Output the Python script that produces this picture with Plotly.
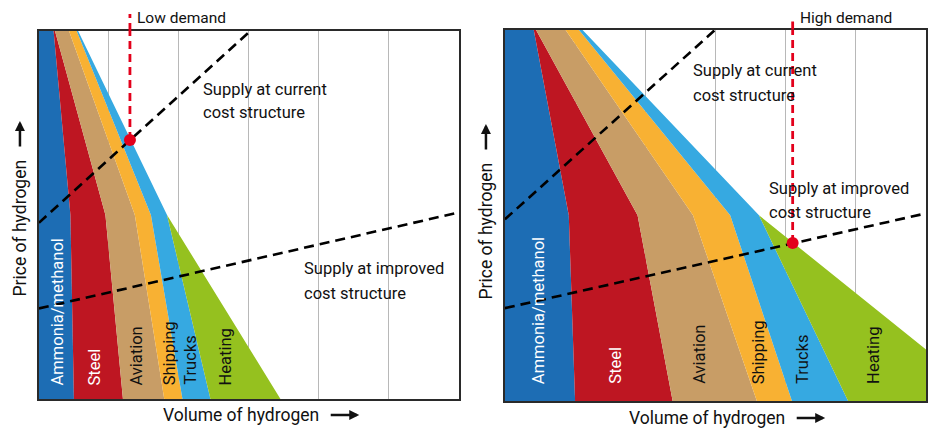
import plotly.graph_objects as go

# ---------------- data ----------------
sectors = ["Ammonia/methanol", "Steel", "Aviation", "Shipping", "Trucks", "Heating"]
price_levels = [10, 5, 0]

# cumulative hydrogen volume (right edge of each sector) at each price level
low_edges = [
    [0.21, 0.45, 0.50],
    [0.23, 0.95, 1.20],
    [0.43, 1.37, 1.79],
    [0.54, 1.60, 2.05],
    [0.56, 1.83, 2.45],
    [0.56, 1.83, 3.45],
]
high_edges = [
    [0.41, 0.91, 1.00],
    [0.44, 1.89, 2.39],
    [0.86, 2.68, 3.59],
    [1.05, 3.21, 4.09],
    [1.10, 3.62, 4.89],
    [1.10, 3.62, 6.91],
]

low_current_volume = [0, 3.02]
low_current_price = [4.79, 10]
low_improved_volume = [0, 6]
low_improved_price = [2.46, 5.07]
high_current_volume = [0, 3.0]
high_current_price = [4.89, 10]
high_improved_volume = [0, 6]
high_improved_price = [2.50, 5.05]

low_equilibrium = (1.30, 7.04)
high_equilibrium = (4.10, 4.25)

# ---------------- styles ----------------
sector_colors = ["#1d6db4", "#be1622", "#c89d66", "#f8b133", "#36a9e1", "#95c11f"]
label_colors = ["white", "white", "#111111", "#111111", "#111111", "#111111"]
low_label_x = [0.27, 0.80, 1.40, 1.86, 2.16, 2.67]
high_label_x = [0.48, 1.57, 2.77, 3.61, 4.24, 5.25]
FONT = "Roboto"
RED = "#e3001b"
W, H = 928, 430


def px(x):
    return x / W


def py(y):
    return 1 - y / H


fig = go.Figure()


def add_panel(edges, xa, ya):
    prev = [0] * len(price_levels)
    for i, edge in enumerate(edges):
        xs = list(prev) + list(reversed(edge))
        ys = list(price_levels) + list(reversed(price_levels))
        fig.add_trace(go.Scatter(
            x=xs, y=ys, fill="toself", mode="lines",
            fillcolor=sector_colors[i], line=dict(width=0, color=sector_colors[i]),
            hoverinfo="skip", xaxis=xa, yaxis=ya, name=sectors[i]))
        prev = edge


def add_supply(vx, vy, xa, ya):
    fig.add_trace(go.Scatter(
        x=vx, y=vy, mode="lines",
        line=dict(color="#000000", width=2.6, dash="10px,6px"),
        hoverinfo="skip", xaxis=xa, yaxis=ya))


add_panel(low_edges, "x", "y")
add_supply(low_current_volume, low_current_price, "x", "y")
add_supply(low_improved_volume, low_improved_price, "x", "y")
add_panel(high_edges, "x2", "y2")
add_supply(high_current_volume, high_current_price, "x2", "y2")
add_supply(high_improved_volume, high_improved_price, "x2", "y2")

# demand lines (shapes) and dots
for (ex, ey), xr, yr in [(low_equilibrium, "x", "y"), (high_equilibrium, "x2", "y2")]:
    fig.add_shape(type="line", xref=xr, yref=yr, x0=ex, x1=ex, y0=ey, y1=10,
                  line=dict(color=RED, width=2.8, dash="8px,5px"), layer="above")
for ex, xr, y0p, y1p in [(low_equilibrium[0], "x", 31, 14), (high_equilibrium[0], "x2", 29.5, 19)]:
    fig.add_shape(type="line", xref=xr, yref="paper", x0=ex, x1=ex, y0=py(y0p), y1=py(y1p),
                  line=dict(color=RED, width=2.8, dash="8px,5px"), layer="above")

fig.add_trace(go.Scatter(x=[low_equilibrium[0]], y=[low_equilibrium[1]], mode="markers",
                         marker=dict(color=RED, size=12), hoverinfo="skip", xaxis="x", yaxis="y",
                         cliponaxis=False))
fig.add_trace(go.Scatter(x=[high_equilibrium[0]], y=[high_equilibrium[1]], mode="markers",
                         marker=dict(color=RED, size=12), hoverinfo="skip", xaxis="x2", yaxis="y2",
                         cliponaxis=False))

ann = []


def text(x, y, t, size=16.5, color="#111111", xanchor="left", yanchor="middle", angle=0, xref="paper", yref="paper"):
    ann.append(dict(x=x, y=y, xref=xref, yref=yref, text=t, showarrow=False,
                    xanchor=xanchor, yanchor=yanchor, textangle=angle,
                    font=dict(family=FONT, size=size, color=color), borderpad=0))


def arrow(hx, hy, ax, ay):
    ann.append(dict(x=px(hx), y=py(hy), xref="paper", yref="paper", text="",
                    showarrow=True, ax=ax, ay=ay, arrowhead=2, arrowsize=0.8,
                    arrowwidth=2.5, arrowcolor="#111111", standoff=0))


# left panel texts
text(px(136), py(18), "Low demand", size=15.5)
text(px(202), py(89), "Supply at current")
text(px(202), py(113), "cost structure")
text(px(304), py(268), "Supply at improved")
text(px(304), py(293), "cost structure")
# right panel texts
text(px(801), py(18), "High demand", size=15.5)
text(px(693), py(70), "Supply at current")
text(px(693), py(95.5), "cost structure")
text(px(770), py(188), "Supply at improved")
text(px(770), py(212), "cost structure")

for i, s in enumerate(sectors):
    text(low_label_x[i], 0.35, s, size=16.5, color=label_colors[i], xanchor="center",
         yanchor="bottom", angle=-90, xref="x", yref="y")
    text(high_label_x[i], 0.43, s, size=16.5, color=label_colors[i], xanchor="center",
         yanchor="bottom", angle=-90, xref="x2", yref="y2")

# axis titles with arrows
text(px(162), py(415), "Volume of hydrogen", size=17.5)
arrow(360, 415, -30, 0)
text(px(20), py(297), "Price of hydrogen", size=17.5, xanchor="center", yanchor="bottom", angle=-90)
arrow(20, 121, 0, 27)
text(px(629), py(418), "Volume of hydrogen", size=17.5)
arrow(827, 418, -30, 0)
text(px(487), py(300), "Price of hydrogen", size=17.5, xanchor="center", yanchor="bottom", angle=-90)
arrow(487, 124, 0, 27)

axis_common = dict(showticklabels=False, ticks="", zeroline=False, showline=True, mirror=True,
                   linecolor="#2a2a2a", linewidth=1.5, fixedrange=True)

fig.update_layout(
    width=W, height=H, margin=dict(l=0, r=0, t=0, b=0),
    paper_bgcolor="white", plot_bgcolor="white", showlegend=False,
    font=dict(family=FONT),
    xaxis=dict(domain=[px(39), px(460)], range=[0, 6], showgrid=True, dtick=1,
               gridcolor="#b8b8b8", gridwidth=1, anchor="y", **axis_common),
    yaxis=dict(domain=[py(399), py(31)], range=[0, 10], showgrid=False, anchor="x", **axis_common),
    xaxis2=dict(domain=[px(506), 1.0], range=[0, 6], showgrid=True, dtick=1,
                gridcolor="#b8b8b8", gridwidth=1, anchor="y2", **axis_common),
    yaxis2=dict(domain=[py(401), py(29.5)], range=[0, 10], showgrid=False, anchor="x2", **axis_common),
    annotations=ann,
)

fig.write_html(
    "out.html",
    config={"displayModeBar": False},
    post_script="document.body.style.margin='0';document.body.style.padding='0';"
                "document.documentElement.style.overflow='hidden';",
)
